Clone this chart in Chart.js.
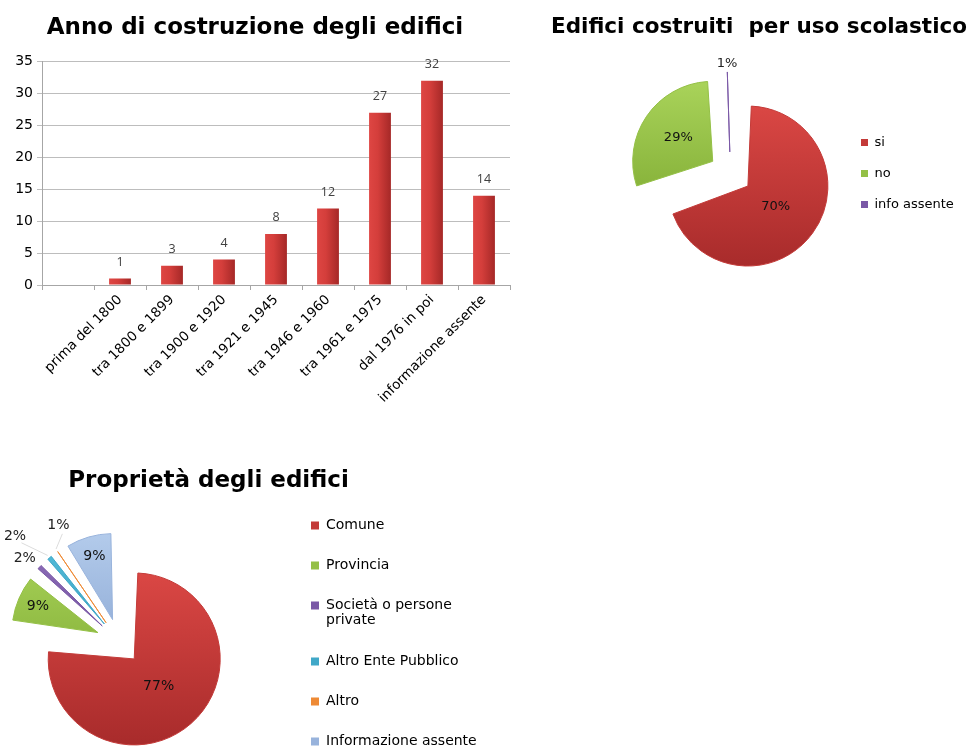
<!DOCTYPE html>
<html lang="it">
<head>
<meta charset="utf-8">
<title>Edifici scolastici</title>
<script src="https://cdn.jsdelivr.net/npm/chart.js@4.4.1/dist/chart.umd.min.js"></script>
<style>
    html, body { margin: 0; padding: 0; background: #fff; overflow: hidden; }
    body { width: 971px; height: 749px; position: relative; }
    .box { position: absolute; }
</style>
</head>
<body>
<div class="box" style="left:0;top:0;width:520px;height:420px"><canvas id="annoChart"></canvas></div>
<div class="box" style="left:530px;top:0;width:450px;height:296px"><canvas id="scuolaChart"></canvas></div>
<div class="box" style="left:-47px;top:455px;width:571px;height:336px"><canvas id="proprietaChart"></canvas></div>
<script>
// dati
const annoCategorie = ['', 'prima del 1800', 'tra 1800 e 1899', 'tra 1900 e 1920', 'tra 1921 e 1945',
    'tra 1946 e 1960', 'tra 1961 e 1975', 'dal 1976 in poi', 'informazione assente'];
const annoEdifici = [null, 1, 3, 4, 8, 12, 27, 32, 14];

const scuolaCategorie = ['si', 'no', 'info assente'];
const scuolaPercentuali = [70, 29, 1];

const proprietaCategorie = ['Comune', 'Provincia', ['Società o persone', 'private'],
    'Altro Ente Pubblico', 'Altro', 'Informazione assente'];
const proprietaPercentuali = [77, 9, 2, 2, 1, 9];

// colori (chiaro / scuro / pieno per la legenda)
const scuolaChiari = ['#da4744', '#a9d35a', '#9070bb'];
const scuolaScuri = ['#a82b2b', '#78a42c', '#5c3d8a'];
const scuolaPieni = ['#c33a38', '#94c046', '#7a58a6'];
const proprietaChiari = ['#da4744', '#a9d35a', '#9070bb', '#55bedb', '#f8a35a', '#b3cbeb'];
const proprietaScuri = ['#a82b2b', '#78a42c', '#5c3d8a', '#2a8cb0', '#d6701e', '#7d9bcb'];
const proprietaPieni = ['#c33a38', '#94c046', '#7a58a6', '#40a8c8', '#ee8a35', '#98b3dc'];

Chart.defaults.font.family = '"DejaVu Sans", sans-serif';
Chart.defaults.color = '#000';
Chart.defaults.animation = false;

function barFill(c) {
    const x = c.chart.scales.x;
    if (!x || c.dataIndex === undefined) return '#c43836';
    const px = x.getPixelForValue(c.dataIndex);
    if (!isFinite(px)) return '#c43836';
    const g = c.chart.ctx.createLinearGradient(px - 11, 0, px + 11, 0);
    g.addColorStop(0, '#de4643');
    g.addColorStop(0.4, '#d43e3b');
    g.addColorStop(1, '#a52827');
    return g;
}

function sliceFill(c, chiari, scuri) {
    const area = c.chart.chartArea;
    const i = c.dataIndex;
    if (!area || i === undefined) return scuri[0];
    const r = c.dataset.radius;
    const cy = (area.top + area.bottom) / 2;
    if (!isFinite(cy) || !isFinite(r)) return scuri[i];
    const g = c.chart.ctx.createLinearGradient(0, cy - r, 0, cy + r);
    g.addColorStop(0, chiari[i]);
    g.addColorStop(1, scuri[i]);
    return g;
}

function flatLegend(pieni) {
    return function (chart) {
        const base = (Chart.overrides.pie || Chart.overrides.doughnut).plugins.legend.labels.generateLabels;
        return base(chart).map(function (item, i) {
            item.fillStyle = pieni[i];
            item.strokeStyle = pieni[i];
            item.lineWidth = 0;
            return item;
        });
    };
}

// numeri sopra le barre
const barValues = {
    id: 'barValues',
    afterDatasetsDraw(chart, args, opts) {
        const ctx = chart.ctx;
        const values = chart.data.datasets[0].data;
        ctx.save();
        ctx.font = opts.font;
        ctx.fillStyle = opts.color;
        ctx.textAlign = 'center';
        ctx.textBaseline = 'middle';
        chart.getDatasetMeta(0).data.forEach(function (bar, i) {
            if (values[i] === null) return;
            ctx.fillText(values[i], bar.x, bar.y - opts.gap);
        });
        ctx.restore();
    }
};

// spicchi esplosi tutti uguali + etichette percentuali
const pieExtras = {
    id: 'pieExtras',
    beforeDatasetsDraw(chart) {
        const ds = chart.data.datasets[0];
        const shift = ds.offset / 4;
        chart.getDatasetMeta(0).data.forEach(function (arc) {
            const circ = arc.endAngle - arc.startAngle;
            arc.outerRadius = ds.radius - shift * (1 - Math.sin(Math.min(Math.PI, circ)));
        });
    },
    afterDatasetsDraw(chart, args, opts) {
        const ds = chart.data.datasets[0];
        const shift = ds.offset / 4;
        const total = ds.data.reduce((a, b) => a + b, 0);
        const ctx = chart.ctx;
        ctx.save();
        ctx.font = opts.fontSize + 'px "DejaVu Sans"';
        ctx.textAlign = 'center';
        ctx.textBaseline = 'middle';
        chart.getDatasetMeta(0).data.forEach(function (arc, i) {
            const pct = ds.data[i] / total * 100;
            const mid = (arc.startAngle + arc.endAngle) / 2;
            const vx = arc.x + Math.cos(mid) * shift;
            const vy = arc.y + Math.sin(mid) * shift;
            let dist, ang = mid;
            if (pct >= 5) {
                dist = ds.radius * (pct > 50 ? 0.43 : pct > 20 ? 0.52 : 0.76);
                ctx.fillStyle = '#111';
            } else {
                const o = (opts.outside && opts.outside[i]) || [10, 0];
                dist = ds.radius + o[0];
                ang = mid + o[1] * Math.PI / 180;
                if (o[2]) {
                    ctx.strokeStyle = 'rgba(0,0,0,0.14)';
                    ctx.lineWidth = 1;
                    ctx.beginPath();
                    ctx.moveTo(vx + Math.cos(mid) * (ds.radius + 3), vy + Math.sin(mid) * (ds.radius + 3));
                    ctx.lineTo(vx + Math.cos(ang) * (dist - 9), vy + Math.sin(ang) * (dist - 9));
                    ctx.stroke();
                }
                ctx.fillStyle = '#222';
            }
            ctx.fillText(Math.round(pct) + '%', vx + Math.cos(ang) * dist, vy + Math.sin(ang) * dist);
        });
        ctx.restore();
    }
};

// sposta la legenda e la lascia larga fino al bordo (niente testo tagliato)
const legendShift = {
    id: 'legendShift',
    afterLayout(chart, args, opts) {
        const lg = chart.legend;
        if (!lg) return;
        lg.left += opts.dx || 0;
        lg.right = chart.width;
        lg.width = lg.right - lg.left;
    }
};

new Chart(document.getElementById('annoChart'), {
    type: 'bar',
    data: {
        labels: annoCategorie,
        datasets: [{
            data: annoEdifici,
            backgroundColor: barFill,
            barPercentage: 0.42,
            categoryPercentage: 1
        }]
    },
    options: {
        responsive: true,
        maintainAspectRatio: false,
        layout: {padding: {right: 10}},
        plugins: {
            legend: {display: false},
            tooltip: {enabled: false},
            title: {
                display: true,
                text: 'Anno di costruzione degli edifici',
                color: '#000',
                font: {size: 23, weight: 'bold', lineHeight: 1.2},
                padding: {top: 14, bottom: 20}
            },
            barValues: {font: '12.5px "Open Sans"', color: '#404040', gap: 16}
        },
        scales: {
            x: {
                grid: {drawOnChartArea: false, tickLength: 5, color: '#a6a6a6'},
                border: {color: '#a6a6a6'},
                ticks: {autoSkip: false, minRotation: 45, maxRotation: 45, color: '#000', font: {size: 13.5}, padding: 2},
                afterFit: function (s) { s.height = 135; }
            },
            y: {
                min: 0,
                max: 35,
                ticks: {stepSize: 5, color: '#000', font: {size: 14}, padding: 4},
                grid: {color: '#bdbdbd', tickLength: 5},
                border: {color: '#a6a6a6'},
                afterFit: function (s) { s.width = 42; }
            }
        }
    },
    plugins: [barValues]
});

new Chart(document.getElementById('scuolaChart'), {
    type: 'pie',
    data: {
        labels: scuolaCategorie,
        datasets: [{
            data: scuolaPercentuali,
            backgroundColor: c => sliceFill(c, scuolaChiari, scuolaScuri),
            borderColor: scuolaPieni,
            borderWidth: 1,
            offset: 86,
            radius: 80
        }]
    },
    options: {
        responsive: true,
        maintainAspectRatio: false,
        layout: {padding: {left: 14, right: 6}},
        plugins: {
            tooltip: {enabled: false},
            title: {
                display: true,
                text: 'Edifici costruiti  per uso scolastico',
                color: '#000',
                font: {size: 21.5, weight: 'bold', lineHeight: 1.2},
                padding: {top: 15, bottom: 10}
            },
            legend: {
                position: 'right',
                fullSize: false,
                maxWidth: 57,
                labels: {
                    boxWidth: 7, boxHeight: 7, padding: 18, color: '#000',
                    font: {size: 13},
                    generateLabels: flatLegend(scuolaPieni)
                }
            },
            legendShift: {dx: -74},
            pieExtras: {fontSize: 13, outside: {2: [8, 0]}}
        }
    },
    plugins: [pieExtras, legendShift]
});

new Chart(document.getElementById('proprietaChart'), {
    type: 'pie',
    data: {
        labels: proprietaCategorie,
        datasets: [{
            data: proprietaPercentuali,
            backgroundColor: c => sliceFill(c, proprietaChiari, proprietaScuri),
            borderColor: proprietaPieni,
            borderWidth: 1,
            offset: 92,
            radius: 86
        }]
    },
    options: {
        responsive: true,
        maintainAspectRatio: false,
        layout: {padding: {left: 0, right: 60}},
        plugins: {
            tooltip: {enabled: false},
            title: {
                display: true,
                text: 'Proprietà degli edifici',
                color: '#000',
                font: {size: 23, weight: 'bold', lineHeight: 0.8},
                padding: {top: 17, bottom: 2}
            },
            legend: {
                position: 'right',
                fullSize: false,
                align: 'start',
                maxWidth: 179,
                labels: {
                    boxWidth: 8, boxHeight: 8, padding: 26, color: '#000',
                    font: {size: 14, lineHeight: '15px'},
                    generateLabels: flatLegend(proprietaPieni)
                }
            },
            legendShift: {dx: 0},
            pieExtras: {fontSize: 14, outside: {2: [17, -2], 3: [39, -6, true], 4: [22, 8, true]}}
        }
    },
    plugins: [pieExtras, legendShift]
});
</script>
</body>
</html>
